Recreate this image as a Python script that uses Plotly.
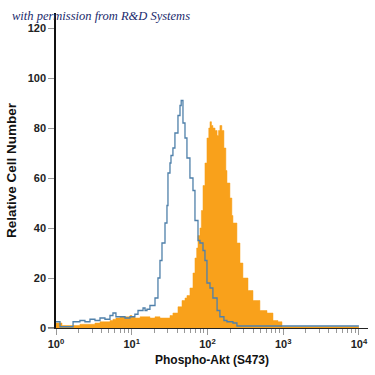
import plotly.graph_objects as go

# Isotype control (blue outline)
ctrl_x = [1.0, 1.13, 1.68, 2.07, 2.41, 2.81, 3.27, 3.81, 4.43, 5.16, 5.65, 6.19, 7.0, 8.15, 9.48,
          11.0, 12.1, 12.9, 14.1, 15.0, 15.9, 17.4, 18.5, 20.3, 22.2, 23.6, 25.1, 27.5, 29.2, 30.1,
          32.0, 33.0, 35.0, 37.2, 40.8, 43.4, 45.0, 47.5, 50.5, 53.6, 58.7, 64.4, 68.4, 75.0, 79.6,
          87.3, 92.7, 98.5, 108, 118, 134, 146, 165, 181, 217, 245, 10000]
ctrl_y = [2.5, 0.5, 2.5, 3, 2.5, 3.5, 3, 4, 3.5, 5, 6, 4.5, 4.5, 4, 4.5,
          5.5, 7, 7, 8, 7, 7.5, 9, 9, 12, 20, 27, 34, 42, 49, 62,
          66, 69, 72, 78, 85, 89, 91, 82, 76, 68, 60, 55, 43, 35, 34,
          31, 27, 18, 16, 12, 7, 4.5, 3, 2.5, 2, 0.8, 0.8]

# Phospho-Akt stained (orange filled)
stain_x = [1.0, 1.2, 1.5, 2.07, 2.41, 3.27, 3.81, 4.43, 5.16, 5.65, 6.19, 7.0, 8.15, 9.48, 10.07,
           11.0, 12.9, 15.0, 17.4, 20.3, 23.6, 27.5, 32.0, 35.0, 40.8, 46.1, 50.5, 53.6, 58.7, 64.4,
           68.4, 72, 75.0, 79.6, 83, 87.3, 92.7, 98.5, 104, 108, 113, 118, 126, 134, 140,
           146, 155, 165, 175, 181, 198, 210, 217, 245, 269, 294, 343, 399, 493, 611,
           733, 853, 964, 10000]
stain_y = [2, 1, 1, 1.5, 1.5, 2, 2.5, 2.5, 3, 3.5, 4, 4.5, 4.5, 5, 4.5,
           4, 4.5, 4.5, 4, 4.5, 4, 4, 5, 6, 8.5, 11, 12, 13, 16, 22,
           28, 32, 37, 40, 47, 57, 66, 76, 80, 82.5, 81, 80, 79, 77, 79,
           81, 79, 72, 63, 58, 52, 45, 42, 34, 26, 20, 15, 11, 7, 6,
           3, 2.5, 0.5, 0.5]

y_ticks = [0, 20, 40, 60, 80, 100, 120]
x_major = [1, 10, 100, 1000, 10000]
x_major_text = ["10<sup>0</sup>", "10<sup>1</sup>", "10<sup>2</sup>", "10<sup>3</sup>", "10<sup>4</sup>"]
x_minor = [m * 10 ** k for k in range(4) for m in range(2, 10)]

fig = go.Figure()
fig.add_trace(go.Scatter(x=stain_x, y=stain_y, mode="lines", line=dict(shape="hv", width=0.5, color="#F9A11B"),
                         fill="tozeroy", fillcolor="#F9A11B", hoverinfo="skip"))
fig.add_trace(go.Scatter(x=ctrl_x, y=ctrl_y, mode="lines", line=dict(shape="hv", width=1.3, color="#4f80aa"),
                         hoverinfo="skip"))

tickfont = dict(family="Liberation Sans, Arial, sans-serif", size=11, color="#222")
fig.update_layout(
    width=375, height=375, showlegend=False,
    margin=dict(l=56, r=7, t=13, b=47, autoexpand=False),
    paper_bgcolor="white", plot_bgcolor="white",
    xaxis=dict(type="log", range=[0, 4.12], showgrid=False, zeroline=False, automargin=False,
               showline=True, linecolor="#222", linewidth=1.2,
               tickmode="array", tickvals=x_major, ticktext=[f"<b>{t}</b>" for t in x_major_text],
               ticks="outside", ticklen=6, tickcolor="#999", tickwidth=1,
               tickfont=tickfont,
               minor=dict(tickmode="array", tickvals=x_minor, ticks="outside", ticklen=4,
                          tickcolor="#999", tickwidth=1, showgrid=False),
               title=dict(text="<b>Phospho-Akt (S473)</b>", standoff=6,
                          font=dict(family="Liberation Sans, Arial", size=12, color="#111"))),
    yaxis=dict(range=[0, 126], showgrid=False, zeroline=False, automargin=False,
               showline=True, linecolor="#111", linewidth=1.5,
               tickmode="array", tickvals=y_ticks, ticktext=[f"<b>{v}</b>" for v in y_ticks],
               ticks="outside", ticklen=6, tickcolor="#999", tickwidth=1,
               tickfont=tickfont,
               title=dict(text="<b>Relative Cell Number</b>", standoff=8,
                          font=dict(family="Liberation Sans, Arial", size=13.5, color="#111"))),
)
fig.add_shape(type="line", xref="paper", yref="y", x0=-0.026, x1=0, y0=0, y1=0,
              line=dict(color="#222", width=1.2))
fig.add_annotation(text="<i>with permission from R&amp;D Systems</i>", xref="paper", yref="paper",
                   x=-0.147, y=0.99, xanchor="left", yanchor="middle", showarrow=False,
                   font=dict(family="Liberation Serif, DejaVu Serif, serif", size=12.5, color="#1a2a6c"))
fig.write_html("out.html", config={"displayModeBar": False},
               post_script="document.body.style.margin='0';")
